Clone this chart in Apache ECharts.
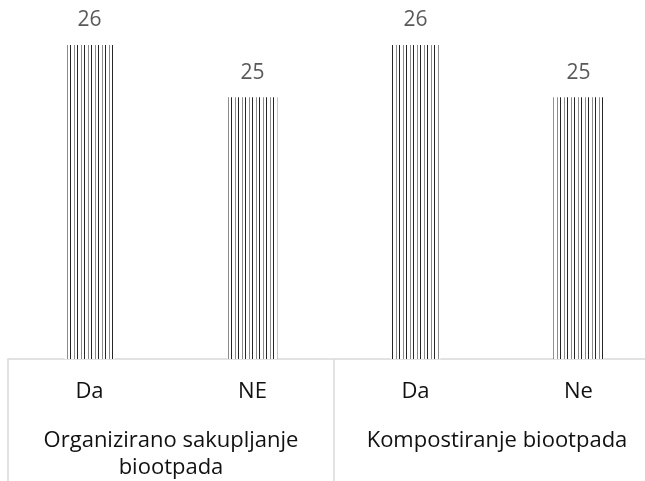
<!DOCTYPE html>
<html>
<head>
<meta charset="utf-8">
<script src="https://cdn.jsdelivr.net/npm/echarts@6/dist/echarts.min.js"></script>
<style>
  html, body { margin: 0; padding: 0; background: #ffffff; overflow: hidden; }
  #chart { width: 660px; height: 481px; }
</style>
</head>
<body>
<div id="chart"></div>
<script>
// Answers per question, grouped by topic
const answerLabels = ['Da', 'NE', 'Da', 'Ne'];
const groupLabels = ['Organizirano sakupljanje\nbiootpada', 'Kompostiranje biootpada'];
const counts = [26, 25, 26, 25];

// Vertical hatch fill for the bars
function makeHatch() {
  const c = document.createElement('canvas');
  c.width = 7;
  c.height = 4;
  const ctx = c.getContext('2d');
  ctx.fillStyle = '#ffffff';
  ctx.fillRect(0, 0, 7, 4);
  ctx.fillStyle = '#262626';
  ctx.fillRect(0, 0, 1, 4);
  ctx.fillStyle = '#8c8c8c';
  ctx.fillRect(4, 0, 1, 4);
  return c;
}

const FONT = 'Open Sans';
const chart = echarts.init(document.getElementById('chart'));
chart.setOption({
  animation: false,
  grid: { left: 8, top: 45, right: 0, height: 314, containLabel: false },
  xAxis: [
    {
      type: 'category',
      data: answerLabels,
      position: 'bottom',
      axisLine: { show: true, lineStyle: { color: '#d9d9d9', width: 1.5 } },
      axisTick: { show: false },
      axisLabel: { margin: 22, color: '#111111', fontSize: 22, fontFamily: FONT }
    },
    {
      type: 'category',
      data: groupLabels,
      position: 'bottom',
      axisLine: { show: false },
      axisTick: { show: true, length: 130, interval: 0, lineStyle: { color: '#d9d9d9', width: 1.5 } },
      axisLabel: { margin: 68, color: '#111111', fontSize: 22, lineHeight: 27, fontFamily: FONT, interval: 0 }
    }
  ],
  yAxis: { type: 'value', min: 20, max: 26, show: false, splitLine: { show: false } },
  series: [{
    type: 'bar',
    xAxisIndex: 0,
    data: counts,
    barWidth: 50,
    itemStyle: { color: { image: makeHatch(), repeat: 'repeat' } },
    label: {
      show: true,
      position: 'top',
      distance: 14,
      color: '#595959',
      fontSize: 21,
      fontFamily: FONT
    }
  }]
});
</script>
</body>
</html>
